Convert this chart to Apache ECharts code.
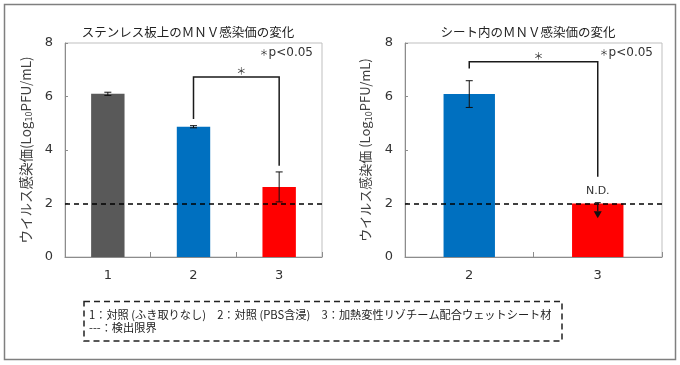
<!DOCTYPE html>
<html>
<head>
<meta charset="utf-8">
<script src="https://cdn.jsdelivr.net/npm/echarts@6/dist/echarts.min.js"></script>
<style>
html,body{margin:0;padding:0;background:#fff;}
#c{width:680px;height:365px;}
</style>
</head>
<body>
<div id="c"></div>
<script>
// ---- data ----
const categoriesLeft = ['1', '2', '3'];
const valuesLeft = [6.10, 4.87, 2.62];
const errorsLeft = [0.06, 0.04, 0.56];
const categoriesRight = ['2', '3'];
const valuesRight = [6.09, 2.00];
const errorsRight = [0.50, 0];
const detectionLimit = 2;
// bracket: [fromCategoryIndex, toCategoryIndex, topValue, leftLegBottom, rightLegBottom]
const bracketLeft = [1, 2, 6.73, 5.16, 3.41];
const bracketRight = [0, 1, 7.30, 7.05, 3.00];
// N.D. arrow: [categoryIndex, startValue, tipValue]
const ndArrow = [1, 2.03, 1.45];
const yMin = 0, yMax = 8, yInterval = 2;
const titleLeft = 'ステンレス板上のＭＮＶ感染価の変化';
const titleRight = 'シート内のＭＮＶ感染価の変化';
const sigText = '{s|＊}p<0.05';
const legendLine1 = '1：対照 (ふき取りなし)　2：対照 (PBS含浸)　3：加熱変性リゾチーム配合ウェットシート材';
const legendLine2 = '---：検出限界';

// ---- styles ----
const colorsLeft = ['#595959', '#0070C0', '#FF0000'];
const colorsRight = ['#0070C0', '#FF0000'];
const FONT = "'DejaVu Sans', 'Noto Sans CJK JP', sans-serif";
const JFONT = "'Noto Sans CJK JP', sans-serif";

const chart = echarts.init(document.getElementById('c'), null, {renderer: 'canvas'});

function yAxisCfg(gridIndex, nameText, fs) {
  return {
    type: 'value', gridIndex: gridIndex, min: yMin, max: yMax, interval: yInterval,
    splitLine: {show: false},
    axisLine: {show: true, lineStyle: {color: '#8c8c8c', width: 1}},
    axisTick: {show: true, inside: true, length: 3, lineStyle: {color: '#8c8c8c'}},
    axisLabel: {fontSize: 13, color: '#333', fontFamily: FONT, margin: 12},
    name: nameText,
    nameLocation: 'middle', nameRotate: 90, nameGap: 31,
    nameTextStyle: {
      color: '#404040',
      rich: {
        a: {fontSize: fs, fontFamily: JFONT, color: '#404040', lineHeight: 17},
        s: {fontSize: 8, fontFamily: FONT, color: '#404040', verticalAlign: 'bottom', lineHeight: 12}
      }
    }
  };
}
function xAxisCfg(gridIndex, cats) {
  return {
    type: 'category', gridIndex: gridIndex, data: cats,
    axisLine: {show: true, lineStyle: {color: '#8c8c8c', width: 1}},
    axisTick: {show: true, inside: true, length: 5, lineStyle: {color: '#8c8c8c'}},
    axisLabel: {fontSize: 13, color: '#333', fontFamily: FONT, margin: 12}
  };
}

function errorRender(params, api) {
  const x = api.value(0), m = api.value(1), e = api.value(2);
  if (!e) return null;
  const top = api.coord([x, m + e]);
  const bot = api.coord([x, m - e]);
  const hw = 3.5;
  const st = {stroke: '#111', lineWidth: 1};
  return {type: 'group', children: [
    {type: 'line', shape: {x1: top[0], y1: top[1], x2: bot[0], y2: bot[1]}, style: st},
    {type: 'line', shape: {x1: top[0]-hw, y1: top[1], x2: top[0]+hw, y2: top[1]}, style: st},
    {type: 'line', shape: {x1: bot[0]-hw, y1: bot[1], x2: bot[0]+hw, y2: bot[1]}, style: st}
  ]};
}

function bracketRender(params, api) {
  const x1 = api.value(0), x2 = api.value(1), yt = api.value(2), yl = api.value(3), yr = api.value(4);
  const pL = api.coord([x1, yl]);
  const pLT = api.coord([x1, yt]);
  const pRT = api.coord([x2, yt]);
  const pR = api.coord([x2, yr]);
  return {type: 'group', children: [
    {type: 'polyline', shape: {points: [pL, pLT, pRT, pR]}, style: {stroke: '#1a1a1a', lineWidth: 1.5, fill: null}},
    {type: 'text', style: {text: '＊', x: (pLT[0] + pRT[0]) / 2 + 5, y: pLT[1] - 6,
      textAlign: 'center', textVerticalAlign: 'middle', fill: '#333', font: '10px ' + JFONT}}
  ]};
}

function arrowRender(params, api) {
  const x = api.value(0), s = api.value(1), t = api.value(2);
  const p0 = api.coord([x, s]);
  const p1 = api.coord([x, t]);
  const head = 7, hw = 4;
  return {type: 'group', children: [
    {type: 'line', shape: {x1: p0[0]-3, y1: p0[1], x2: p0[0]+3, y2: p0[1]}, style: {stroke: '#111', lineWidth: 1}},
    {type: 'line', shape: {x1: p0[0], y1: p0[1], x2: p1[0], y2: p1[1] - head}, style: {stroke: '#111', lineWidth: 1.3}},
    {type: 'polygon', shape: {points: [[p1[0]-hw, p1[1]-head], [p1[0]+hw, p1[1]-head], [p1[0], p1[1]]]}, style: {fill: '#111'}},
    {type: 'text', style: {text: 'N.D.', x: p0[0], y: p0[1] - 12, textAlign: 'center', textVerticalAlign: 'middle',
      fill: '#333', font: '11px ' + FONT}}
  ]};
}

const limitMarkLine = {
  symbol: 'none', silent: true, z: 10,
  label: {show: false},
  lineStyle: {color: '#000', type: [5, 4], width: 1.5},
  data: [{yAxis: detectionLimit}]
};

const sigRich = {s: {fontSize: 9, fontFamily: JFONT, fill: '#333'}};

const option = {
  animation: false,
  backgroundColor: '#fff',
  grid: [
    {left: 65, right: 358, top: 43, bottom: 108, show: true, borderColor: '#bfbfbf', borderWidth: 1, backgroundColor: 'transparent'},
    {left: 405, right: 18, top: 43, bottom: 108, show: true, borderColor: '#bfbfbf', borderWidth: 1, backgroundColor: 'transparent'}
  ],
  xAxis: [xAxisCfg(0, categoriesLeft), xAxisCfg(1, categoriesRight)],
  yAxis: [
    yAxisCfg(0, '{a|ウイルス感染価(Log}{s|10}{a|PFU/mL)}', 13.5),
    yAxisCfg(1, '{a|ウイルス感染価 (Log}{s|10}{a|PFU/mL)}', 13)
  ],
  series: [
    {
      type: 'bar', xAxisIndex: 0, yAxisIndex: 0, barWidth: '39%',
      data: valuesLeft.map((v, i) => ({value: v, itemStyle: {color: colorsLeft[i]}})),
      markLine: limitMarkLine
    },
    {
      type: 'bar', xAxisIndex: 1, yAxisIndex: 1, barWidth: '40%',
      data: valuesRight.map((v, i) => ({value: v, itemStyle: {color: colorsRight[i]}})),
      markLine: limitMarkLine
    },
    {
      type: 'custom', xAxisIndex: 0, yAxisIndex: 0, z: 5,
      renderItem: errorRender,
      encode: {x: 0, y: 1},
      data: valuesLeft.map((v, i) => [i, v, errorsLeft[i]])
    },
    {
      type: 'custom', xAxisIndex: 1, yAxisIndex: 1, z: 5,
      renderItem: errorRender,
      encode: {x: 0, y: 1},
      data: valuesRight.map((v, i) => [i, v, errorsRight[i]])
    },
    {
      type: 'custom', xAxisIndex: 0, yAxisIndex: 0, z: 6,
      renderItem: bracketRender,
      encode: {x: [0, 1], y: [2, 3, 4]},
      data: [bracketLeft]
    },
    {
      type: 'custom', xAxisIndex: 1, yAxisIndex: 1, z: 6,
      renderItem: bracketRender,
      encode: {x: [0, 1], y: [2, 3, 4]},
      data: [bracketRight]
    },
    {
      type: 'custom', xAxisIndex: 1, yAxisIndex: 1, z: 12,
      renderItem: arrowRender,
      encode: {x: 0, y: [1, 2]},
      data: [ndArrow]
    }
  ],
  graphic: [
    {type: 'rect', shape: {x: 4.5, y: 4.5, width: 671, height: 355}, style: {fill: null, stroke: '#7f7f7f', lineWidth: 1.5}, z: 0},
    {type: 'text', x: 188, y: 32, style: {text: titleLeft, font: '12.5px ' + JFONT, fill: '#222', textAlign: 'center', textVerticalAlign: 'middle'}},
    {type: 'text', x: 528, y: 32, style: {text: titleRight, font: '12.5px ' + JFONT, fill: '#222', textAlign: 'center', textVerticalAlign: 'middle'}},
    {type: 'text', x: 313, y: 53, style: {text: sigText, rich: sigRich, font: '12px ' + FONT, fill: '#333', textAlign: 'right', textVerticalAlign: 'middle'}},
    {type: 'text', x: 653, y: 53, style: {text: sigText, rich: sigRich, font: '12px ' + FONT, fill: '#333', textAlign: 'right', textVerticalAlign: 'middle'}},
    {type: 'rect', shape: {x: 84, y: 301.5, width: 478, height: 39.5}, style: {fill: null, stroke: '#222', lineWidth: 1.5, lineDash: [6, 4]}},
    {type: 'text', x: 89, y: 314.5, style: {text: legendLine1, font: '11.2px ' + JFONT, fill: '#222', textAlign: 'left', textVerticalAlign: 'middle'}},
    {type: 'text', x: 89, y: 327.5, style: {text: legendLine2, font: '11.2px ' + JFONT, fill: '#222', textAlign: 'left', textVerticalAlign: 'middle'}}
  ]
};
chart.setOption(option);
</script>
</body>
</html>
